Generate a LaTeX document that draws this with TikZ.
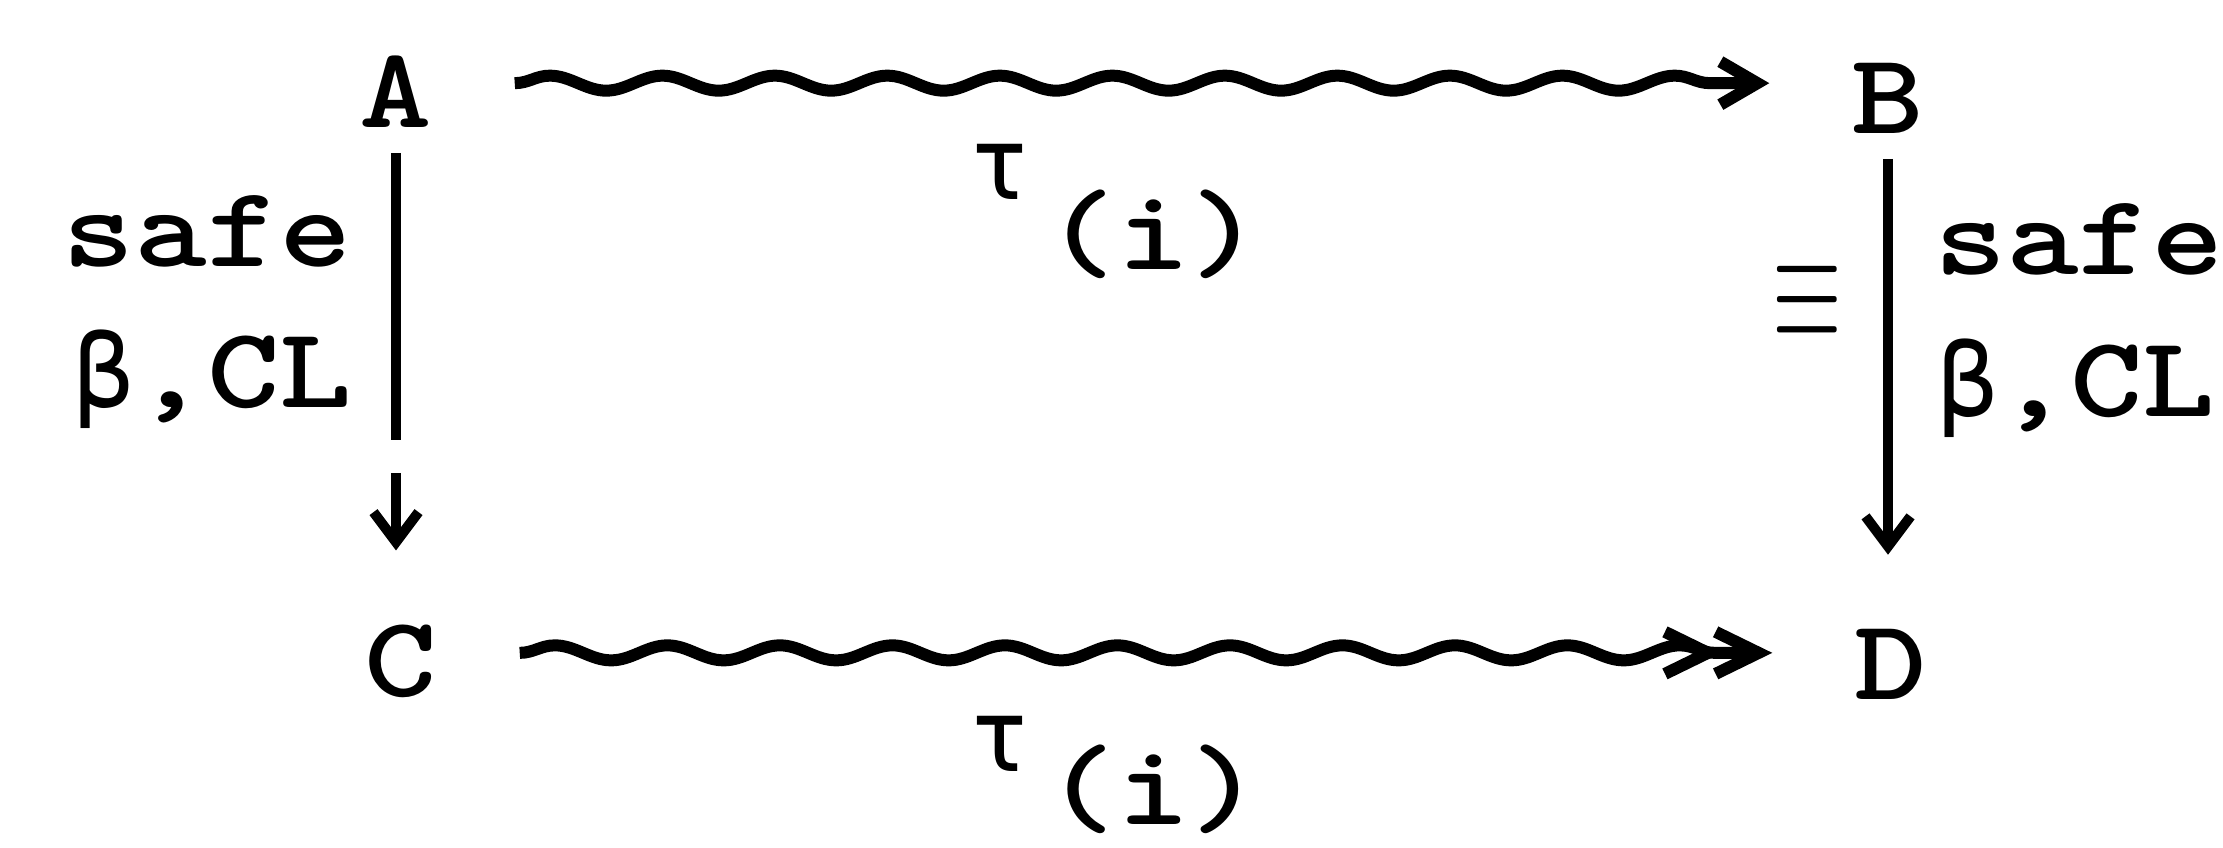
\documentclass[tikz,border=0pt]{standalone}
\usepackage{fontspec}
\usepackage{tikz}
\usetikzlibrary{arrows.meta, decorations.pathmorphing, positioning}
\newfontfamily\twfont{lmmonolt10-bold.otf}[FakeStretch=1.2]
\newfontfamily\gkfont{DejaVu Sans Mono}[Scale=0.88]
\newcommand{\gkb}{{\gkfont β}}
\newcommand{\gkt}{{\gkfont τ}}
\tikzstyle{term} = [
    inner sep=0pt,
    outer xsep=16.5pt,
    outer ysep=5pt,
    anchor=base,
    font=\twfont\fontsize{23}{28}\selectfont
]
\tikzstyle{lbl} = [
    inner sep=0pt,
    font=\twfont\fontsize{23}{28}\selectfont
]
\tikzstyle{squig} = [
    line width=2.4pt,
    decorate,
    decoration={snake, segment length=22.5pt, amplitude=1.5pt, post length=2pt}
]
\tikzstyle{down} = [
    line width=2pt,
    -{Straight Barb[length=6pt, width=9pt]},
    shorten >=10pt
]

\begin{document}
\begin{tikzpicture}[x=0.2pt, y=-0.2pt]
        \useasboundingbox (0,0) rectangle (2223,848);
        % Terms
        \node[term] (A) at (396, 128) {A};
        \node[term] (B) at (1888, 134) {B};
        \node[term] (C) at (401, 697) {C};
        \node[term] (D) at (1891, 700) {D};

        % Labels
        \node[lbl, anchor=base east] (safeL) at (353, 267) {safe};
        \node[lbl, anchor=base east] (betaL) at (353, 408) {\gkb,CL};
        \node[lbl, anchor=base west] (safeR) at (1933, 275) {safe};
        \node[lbl, anchor=base west] (betaR) at (1936, 417) {\gkb,CL};
        \node[lbl] (eqv) at (1807, 302) {\scalebox{0.72}[1.25]{$\equiv$}};
        \node[lbl, anchor=base west] (tauT) at (968, 200) {\gkt\hspace{3pt}\raisebox{-14pt}{(i)}};
        \node[lbl, anchor=base west] (tauB) at (968, 772) {\gkt\hspace{3pt}\raisebox{-10.5pt}{(i)}};

        % Arrows
        \draw[squig, -{Straight Barb[length=7.4pt, width=8.6pt]}]
            ([yshift=1.8pt]A.east) -- ([yshift=1.8pt]A.east -| B.west);
        \draw[squig, -{Straight Barb[length=8.6pt, width=8.4pt, sep=-2.4pt] Straight Barb[length=8.6pt, width=8.4pt]}]
            ([yshift=1.8pt]C.east) -- ([yshift=1.8pt]C.east -| D.west);
        \draw[down, dash pattern=on 57.4pt off 6.6pt on 60pt] (A.south) -- (A.south |- C.north);
        \draw[down] (B.south) -- (B.south |- D.north);
    \end{tikzpicture}
\end{document}
